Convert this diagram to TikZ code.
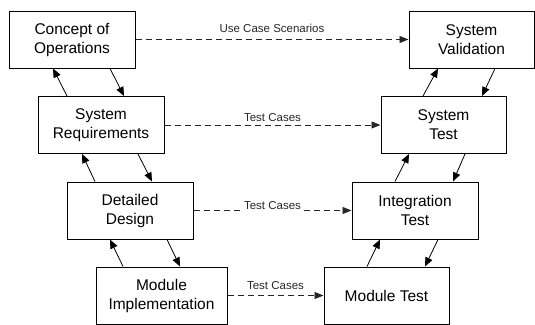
\documentclass[tikz,border=0pt]{standalone}
\usepackage{fontspec}
\setmainfont{Liberation Sans}
\usetikzlibrary{arrows.meta}
\begin{document}
\begin{tikzpicture}[x=1pt,y=-1pt,
  stage/.style={draw=black, line width=1pt, fill=white, minimum width=126pt, minimum height=57pt, align=center, font=\fontsize{15.5}{19}\selectfont, inner sep=2pt},
  flow/.style={line width=0.8pt, -{Triangle[length=9pt,width=7.5pt]}},
  link/.style={line width=0.9pt, black!85, dash pattern=on 6pt off 4pt, -{Triangle[length=9pt,width=7pt]}},
  lbl/.style={font=\fontsize{11.5}{13}\selectfont, inner sep=1pt}]
\useasboundingbox (0,0) rectangle (535,324);
\node[stage] (co) at (72,39.5) {Concept of\\Operations};
\node[stage] (sr) at (101,125) {System\\Requirements};
\node[stage] (dd) at (130,210.5) {Detailed\\Design};
\node[stage, minimum width=131pt] (mi) at (161.5,295.5) {Module\\Implementation};
\node[stage, minimum width=125pt] (sv) at (471.5,39.5) {System\\Validation};
\node[stage, minimum width=125pt] (st) at (443.5,125) {System\\Test};
\node[stage] (it) at (415,210.5) {Integration\\Test};
\node[stage, minimum width=125pt] (mt) at (386.5,295.5) {Module Test};
% left side
\draw[flow] ([xshift=38pt]co.south) -- ([xshift=23pt]sr.north);
\draw[flow] ([xshift=-34pt]sr.north) -- ([xshift=-19pt]co.south);
\draw[flow] ([xshift=37pt]sr.south) -- ([xshift=22pt]dd.north);
\draw[flow] ([xshift=-35pt]dd.north) -- ([xshift=-19pt]sr.south);
\draw[flow] ([xshift=37pt]dd.south) -- ([xshift=18.5pt]mi.north);
\draw[flow] ([xshift=-38.5pt]mi.north) -- ([xshift=-20pt]dd.south);
% right side
\draw[flow] ([xshift=23.5pt]sv.south) -- ([xshift=38.5pt]st.north);
\draw[flow] ([xshift=-20.5pt]st.north) -- ([xshift=-33.5pt]sv.south);
\draw[flow] ([xshift=21.5pt]st.south) -- ([xshift=38pt]it.north);
\draw[flow] ([xshift=-20pt]it.north) -- ([xshift=-34.5pt]st.south);
\draw[flow] ([xshift=23pt]it.south) -- ([xshift=38.5pt]mt.north);
\draw[flow] ([xshift=-19.5pt]mt.north) -- ([xshift=-35pt]it.south);
% dashed
\draw[link] (co.east) -- node[lbl, midway, above=5pt] {Use Case Scenarios} (sv.west);
\draw[link] (sr.east) -- node[lbl, midway, above=2pt] {Test Cases} (st.west);
\draw[link] (dd.east) -- node[lbl, midway, yshift=5pt, fill=white] {Test Cases} (it.west);
\draw[link] (mi.east) -- node[lbl, midway, above=4.5pt] {Test Cases} (mt.west);
\end{tikzpicture}
\end{document}
